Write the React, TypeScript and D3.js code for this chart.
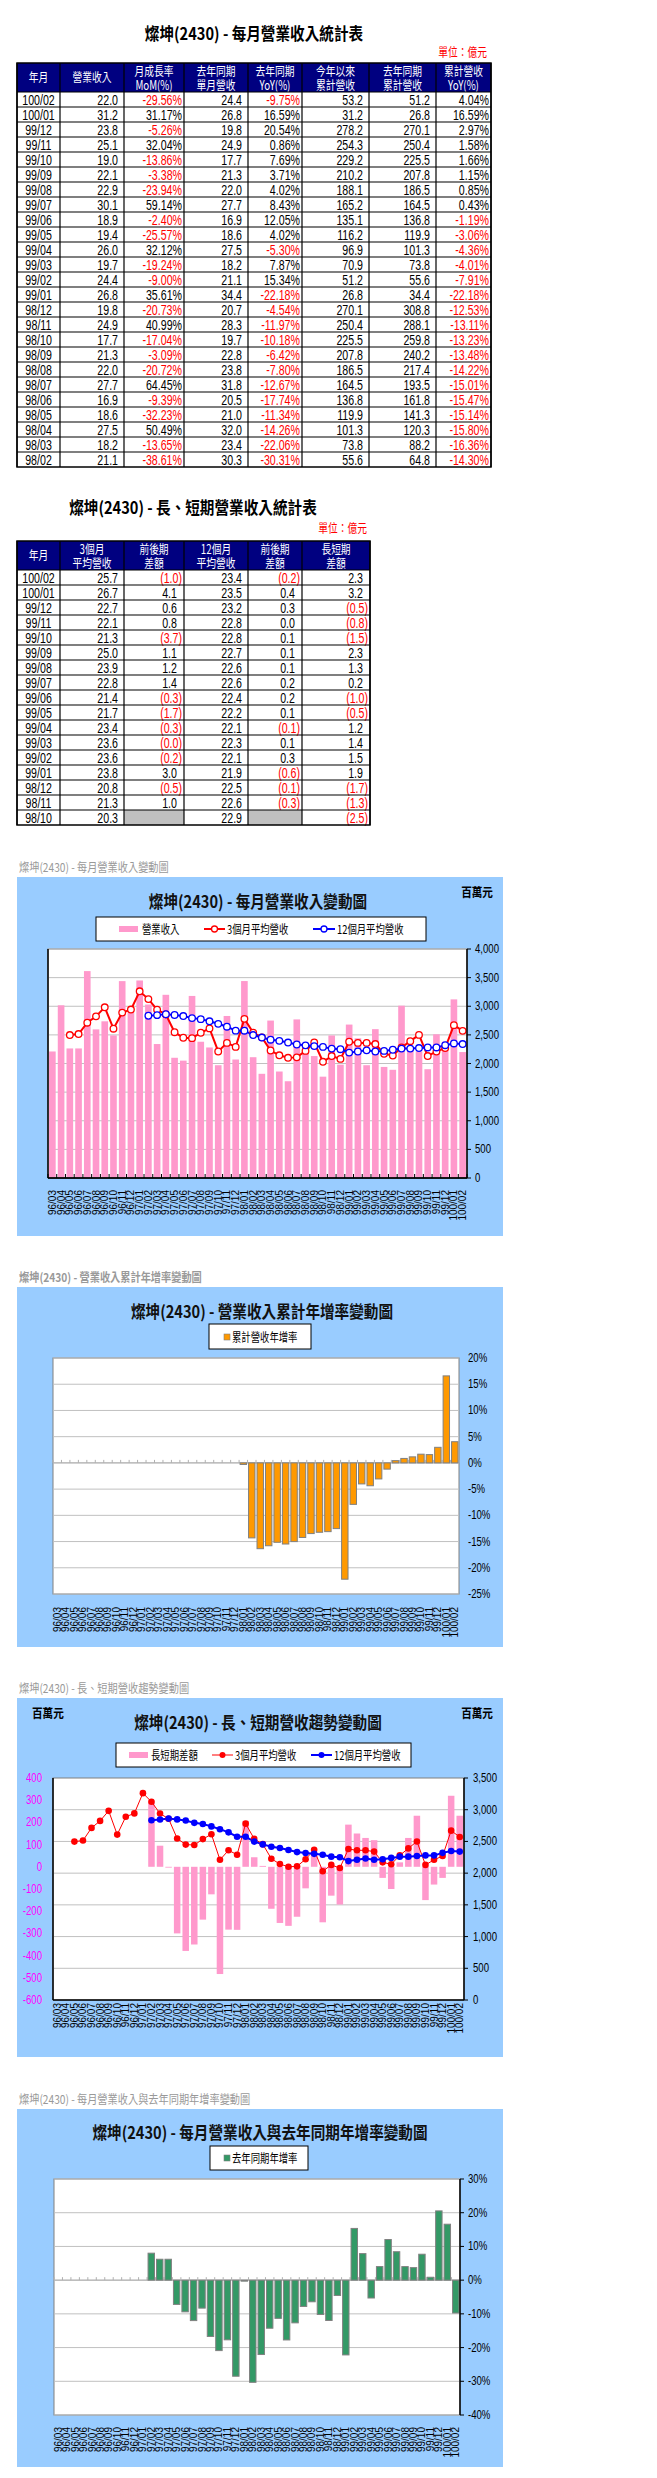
import * as d3 from "d3";

// ---------- data ----------
const months = [
  "96/03", "96/04", "96/05", "96/06", "96/07", "96/08", "96/09", "96/10", "96/11", "96/12",
  "97/01", "97/02", "97/03", "97/04", "97/05", "97/06", "97/07", "97/08", "97/09", "97/10", "97/11", "97/12",
  "98/01", "98/02", "98/03", "98/04", "98/05", "98/06", "98/07", "98/08", "98/09", "98/10", "98/11", "98/12",
  "99/01", "99/02", "99/03", "99/04", "99/05", "99/06", "99/07", "99/08", "99/09", "99/10", "99/11", "99/12",
  "100/01", "100/02",
];

// monthly revenue, 百萬元
const revenue = [
  2210, 3017, 2263, 2263, 3614, 2596, 2737, 2491, 3439, 2895,
  3450, 3030, 2340, 3200, 2100, 2050, 3180, 2380, 2280, 1970, 2830, 2070,
  3440, 2110, 1820, 2750, 1860, 1690, 2770, 2200, 2130, 1770, 2490, 1980,
  2680, 2440, 1970, 2600, 1940, 1890, 3010, 2290, 2210, 1900, 2510, 2380,
  3120, 2200,
];

const avg3: (number | null)[] = [
  null, null, 2497, 2514, 2713, 2824, 2982, 2608, 2889, 2942,
  3261, 3125, 2940, 2857, 2547, 2450, 2443, 2537, 2613, 2210, 2360, 2290,
  2780, 2540, 2457, 2227, 2143, 2100, 2107, 2220, 2367, 2030, 2130, 2080,
  2380, 2360, 2360, 2340, 2170, 2140, 2280, 2390, 2500, 2130, 2210, 2270,
  2670, 2570,
];

const avg12: (number | null)[] = [
  null, null, null, null, null, null, null, null, null, null,
  null, 2834, 2845, 2860, 2847, 2829, 2793, 2775, 2737, 2693, 2643, 2574,
  2573, 2497, 2453, 2416, 2396, 2366, 2332, 2317, 2304, 2290, 2260, 2250,
  2190, 2210, 2230, 2210, 2220, 2240, 2260, 2260, 2270, 2280, 2280, 2320,
  2350, 2340,
];

const longShortDiff: (number | null)[] = [
  null, null, null, null, null, null, null, null, null, null,
  null, 291, 95, -3, -300, -379, -350, -238, -124, -483, -283, -284,
  207, 43, 4, -189, -253, -266, -225, -97, 63, -250, -130, -170,
  190, 150, 130, 120, -50, -100, 20, 130, 230, -150, -80, -50,
  320, 230,
];

const cumYoY: (number | null)[] = [
  null, null, null, null, null, null, null, null, null, null,
  null, null, null, null, null, null, null, null, null, null, null, null,
  -0.3, -14.3, -16.36, -15.8, -15.14, -15.47, -15.01, -14.22, -13.48, -13.23, -13.11, -12.53,
  -22.18, -7.91, -4.01, -4.36, -3.06, -1.19, 0.43, 0.85, 1.15, 1.66, 1.58, 2.97,
  16.59, 4.04,
];

const monthYoY: (number | null)[] = [
  null, null, null, null, null, null, null, null, null, null,
  null, 8.0, 6.2, 6.2, -7.2, -9.4, -12.0, -8.3, -16.7, -20.9, -17.7, -28.5,
  -0.3, -30.31, -22.06, -14.26, -11.34, -17.74, -12.67, -7.8, -6.42, -10.18, -11.97, -4.54,
  -22.18, 15.34, 7.87, -5.3, 4.02, 12.05, 8.43, 4.02, 3.71, 7.69, 0.86, 20.54,
  16.59, -9.75,
];

// table 1 (億元)
const t1Month = ["100/02", "100/01", "99/12", "99/11", "99/10", "99/09", "99/08", "99/07", "99/06", "99/05", "99/04", "99/03", "99/02", "99/01", "98/12", "98/11", "98/10", "98/09", "98/08", "98/07", "98/06", "98/05", "98/04", "98/03", "98/02"];
const t1Rev = [22.0, 31.2, 23.8, 25.1, 19.0, 22.1, 22.9, 30.1, 18.9, 19.4, 26.0, 19.7, 24.4, 26.8, 19.8, 24.9, 17.7, 21.3, 22.0, 27.7, 16.9, 18.6, 27.5, 18.2, 21.1];
const t1MoM = [-29.56, 31.17, -5.26, 32.04, -13.86, -3.38, -23.94, 59.14, -2.4, -25.57, 32.12, -19.24, -9.0, 35.61, -20.73, 40.99, -17.04, -3.09, -20.72, 64.45, -9.39, -32.23, 50.49, -13.65, -38.61];
const t1LastYear = [24.4, 26.8, 19.8, 24.9, 17.7, 21.3, 22.0, 27.7, 16.9, 18.6, 27.5, 18.2, 21.1, 34.4, 20.7, 28.3, 19.7, 22.8, 23.8, 31.8, 20.5, 21.0, 32.0, 23.4, 30.3];
const t1YoY = [-9.75, 16.59, 20.54, 0.86, 7.69, 3.71, 4.02, 8.43, 12.05, 4.02, -5.3, 7.87, 15.34, -22.18, -4.54, -11.97, -10.18, -6.42, -7.8, -12.67, -17.74, -11.34, -14.26, -22.06, -30.31];
const t1Cum = [53.2, 31.2, 278.2, 254.3, 229.2, 210.2, 188.1, 165.2, 135.1, 116.2, 96.9, 70.9, 51.2, 26.8, 270.1, 250.4, 225.5, 207.8, 186.5, 164.5, 136.8, 119.9, 101.3, 73.8, 55.6];
const t1LastCum = [51.2, 26.8, 270.1, 250.4, 225.5, 207.8, 186.5, 164.5, 136.8, 119.9, 101.3, 73.8, 55.6, 34.4, 308.8, 288.1, 259.8, 240.2, 217.4, 193.5, 161.8, 141.3, 120.3, 88.2, 64.8];
const t1CumYoY = [4.04, 16.59, 2.97, 1.58, 1.66, 1.15, 0.85, 0.43, -1.19, -3.06, -4.36, -4.01, -7.91, -22.18, -12.53, -13.11, -13.23, -13.48, -14.22, -15.01, -15.47, -15.14, -15.8, -16.36, -14.3];

// table 2 (億元)
const t2Month = ["100/02", "100/01", "99/12", "99/11", "99/10", "99/09", "99/08", "99/07", "99/06", "99/05", "99/04", "99/03", "99/02", "99/01", "98/12", "98/11", "98/10"];
const t2Avg3 = [25.7, 26.7, 22.7, 22.1, 21.3, 25.0, 23.9, 22.8, 21.4, 21.7, 23.4, 23.6, 23.6, 23.8, 20.8, 21.3, 20.3];
const t2Diff3: (number | null)[] = [-1.0, 4.1, 0.6, 0.8, -3.7, 1.1, 1.2, 1.4, -0.3, -1.7, -0.3, -0.04, -0.2, 3.0, -0.5, 1.0, null];
const t2Avg12 = [23.4, 23.5, 23.2, 22.8, 22.8, 22.7, 22.6, 22.6, 22.4, 22.2, 22.1, 22.3, 22.1, 21.9, 22.5, 22.6, 22.9];
const t2Diff12: (number | null)[] = [-0.2, 0.4, 0.3, 0.0, 0.1, 0.1, 0.1, 0.2, 0.2, 0.1, -0.1, 0.1, 0.3, -0.6, -0.1, -0.3, null];
const t2LongShort = [2.3, 3.2, -0.5, -0.8, -1.5, 2.3, 1.3, 0.2, -1.0, -0.5, 1.2, 1.4, 1.5, 1.9, -1.7, -1.3, -2.5];

// ---------- styles ----------
const CJK = "'Noto Sans CJK TC', 'Noto Sans CJK JP', sans-serif";
const NUM = "'Liberation Sans', Arial, sans-serif";
const SKY = "#99ccff";
const GRID = "#c0c0c0";

// text squeezed horizontally, the source fonts are tall and narrow
function T({ x, y, sx = 0.78, size, anchor = "start", fill = "#000", family = CJK, weight = "normal", baseline, children }: any) {
  return (
    <text
      transform={`translate(${x},${y}) scale(${sx},1)`}
      textAnchor={anchor}
      fontSize={size}
      fill={fill}
      fontFamily={family}
      fontWeight={weight}
      dominantBaseline={baseline}
    >
      {children}
    </text>
  );
}

type Cell = { text: string; color?: string; pad?: number; gray?: boolean; center?: boolean };

function Table({ top, cols, headers, rows }: { top: number; cols: number[]; headers: string[][]; rows: Cell[][] }) {
  const headerH = 29;
  const rowH = 15;
  const y = d3.scaleBand(d3.range(rows.length), [top + headerH, top + headerH + rows.length * rowH]);
  const left = cols[0];
  const right = cols[cols.length - 1];
  const bottom = top + headerH + rows.length * rowH;
  return (
    <g>
      <rect x={left} y={top} width={right - left} height={headerH} fill="#000080" />
      {headers.map((h, c) => {
        const cx = (cols[c] + cols[c + 1]) / 2;
        return h.length === 1 ? (
          <T key={c} x={cx} y={top + headerH / 2 + 4.5} anchor="middle" fill="#fff" size={12.5}>{h[0]}</T>
        ) : (
          <g key={c}>
            <T x={cx} y={top + 12.5} anchor="middle" fill="#fff" size={12.5}>{h[0]}</T>
            <T x={cx} y={top + 27} anchor="middle" fill="#fff" size={12.5}>{h[1]}</T>
          </g>
        );
      })}
      {rows.map((r, i) => (
        <g key={i}>
          {r.map((cell, c) => {
            const yy = y(i)!;
            return (
              <g key={c}>
                {cell.gray && <rect x={cols[c]} y={yy} width={cols[c + 1] - cols[c]} height={rowH} fill="#c0c0c0" />}
                <T
                  x={cell.center ? (cols[c] + cols[c + 1]) / 2 : cols[c + 1] - (cell.pad ?? 6)}
                  y={yy + 12.5}
                  anchor={cell.center ? "middle" : "end"}
                  fill={cell.color ?? "#000"}
                  size={14}
                  sx={0.76}
                  family={NUM}
                >
                  {cell.text}
                </T>
              </g>
            );
          })}
        </g>
      ))}
      {rows.map((_, i) => (
        <line key={i} x1={left} x2={right} y1={y(i)!} y2={y(i)!} stroke="#000" strokeWidth={1.2} />
      ))}
      {cols.map((cx, c) => (
        <line key={c} x1={cx} x2={cx} y1={top} y2={bottom} stroke="#000" strokeWidth={1.2} />
      ))}
      <rect x={left} y={top} width={right - left} height={bottom - top} fill="none" stroke="#000" strokeWidth={1.5} />
    </g>
  );
}

const pct = (v: number): Cell => ({ text: `${v.toFixed(2)}%`, color: v < 0 ? "#ff0000" : "#000", pad: 2 });
const num = (v: number): Cell => ({ text: v.toFixed(1), pad: 6 });
const acc = (v: number | null): Cell =>
  v == null ? { text: "", gray: true } : v < 0 ? { text: `(${Math.abs(v).toFixed(1)})`, color: "#ff0000", pad: 2 } : { text: v.toFixed(1), pad: 7 };

function Table1() {
  const rows: Cell[][] = t1Month.map((m, i) => [
    { text: m, center: true },
    num(t1Rev[i]),
    pct(t1MoM[i]),
    num(t1LastYear[i]),
    pct(t1YoY[i]),
    num(t1Cum[i]),
    num(t1LastCum[i]),
    pct(t1CumYoY[i]),
  ]);
  return (
    <g>
      <T x={254} y={40} anchor="middle" size={17} sx={0.86} weight="bold">燦坤(2430) - 每月營業收入統計表</T>
      <T x={487} y={57} anchor="end" size={12.5} fill="#ff0000">單位：億元</T>
      <Table
        top={63}
        cols={[17, 60, 124, 184, 248, 302, 369, 436, 491]}
        headers={[["年月"], ["營業收入"], ["月成長率", "MoM(%)"], ["去年同期", "單月營收"], ["去年同期", "YoY(%)"], ["今年以來", "累計營收"], ["去年同期", "累計營收"], ["累計營收", "YoY(%)"]]}
        rows={rows}
      />
    </g>
  );
}

function Table2() {
  const rows: Cell[][] = t2Month.map((m, i) => [
    { text: m, center: true },
    num(t2Avg3[i]),
    acc(t2Diff3[i]),
    num(t2Avg12[i]),
    acc(t2Diff12[i]),
    acc(t2LongShort[i]),
  ]);
  return (
    <g>
      <T x={193} y={514} anchor="middle" size={17} sx={0.86} weight="bold">燦坤(2430) - 長、短期營業收入統計表</T>
      <T x={367} y={533} anchor="end" size={12.5} fill="#ff0000">單位：億元</T>
      <Table
        top={541}
        cols={[17, 60, 124, 184, 248, 302, 370]}
        headers={[["年月"], ["3個月", "平均營收"], ["前後期", "差額"], ["12個月", "平均營收"], ["前後期", "差額"], ["長短期", "差額"]]}
        rows={rows}
      />
    </g>
  );
}

// ---------- chart helpers ----------
function Panel({ subY, top, bottom, subtitle, subBold, title, titleX, titleY }: any) {
  return (
    <g>
      <T x={19} y={subY + 4.5} size={12} sx={0.85} fill="#999999" weight={subBold ? "bold" : "normal"}>{subtitle}</T>
      <rect x={17} y={top} width={486} height={bottom - top} fill={SKY} />
      <T x={titleX} y={titleY + 6} anchor="middle" size={17} sx={0.86} weight="bold" fill="#111">{title}</T>
    </g>
  );
}

function band(x0: number, x1: number) {
  return d3.scaleBand(months, [x0, x1]).paddingInner(0.24).paddingOuter(0.12);
}

function XLabels({ x, top }: { x: d3.ScaleBand<string>; top: number }) {
  return (
    <g fontSize={10} fontFamily={NUM} fill="#000">
      {months.map((m) => (
        <text key={m} transform={`translate(${x(m)! + x.bandwidth() / 2},${top}) rotate(-90)`} textAnchor="end" dominantBaseline="central">
          {m}
        </text>
      ))}
    </g>
  );
}

function CatTicks({ x, y, len, color }: { x: d3.ScaleBand<string>; y: number; len: number; color: string }) {
  const [r0, r1] = x.range();
  const step = x.step();
  return (
    <g stroke={color} strokeWidth={1}>
      {d3.range(months.length + 1).map((i) => (
        <line key={i} x1={r0 + i * step} x2={r0 + i * step} y1={y} y2={y - len} />
      ))}
      <line x1={r0} x2={r1} y1={y} y2={y} />
    </g>
  );
}

function RightAxis({ y, x, ticks, fmt, lineX }: { y: d3.ScaleLinear<number, number>; x: number; ticks: number[]; fmt: (v: number) => string; lineX?: number }) {
  return (
    <g>
      {lineX != null && <line x1={lineX} x2={lineX} y1={y.range()[0]} y2={y.range()[1]} stroke="#000" strokeWidth={1.5} />}
      {ticks.map((t) => (
        <g key={t}>
          {lineX != null && <line x1={lineX} x2={lineX + 4} y1={y(t)} y2={y(t)} stroke="#000" />}
          <T x={x} y={y(t) + 4} size={12} sx={0.8} family={NUM}>{fmt(t)}</T>
        </g>
      ))}
    </g>
  );
}

// ---------- chart 1 ----------
function RevenueChart() {
  const [L, R, T0, B] = [48, 467, 949, 1178];
  const x = band(L, R);
  const y = d3.scaleLinear([0, 4000], [B, T0]);
  const cx = (i: number) => x(months[i])! + x.bandwidth() / 2;
  const line = d3.line<number | null>().defined((d) => d != null).x((_, i) => cx(i)).y((d) => y(d!));
  const ticks = d3.range(0, 4001, 500);
  return (
    <g>
      <Panel subY={867} top={877} bottom={1236} subtitle="燦坤(2430) - 每月營業收入變動圖" title="燦坤(2430) - 每月營業收入變動圖" titleX={258} titleY={902} />
      <T x={493} y={897} anchor="end" size={12.5} sx={0.85} weight="bold">百萬元</T>
      <rect x={96} y={917} width={330} height={24} fill="#fff" stroke="#000" />
      <rect x={119} y={926} width={19} height={6} fill="#ff99cc" />
      <T x={142} y={933.5} size={12}>營業收入</T>
      <line x1={204} x2={225} y1={929} y2={929} stroke="#ff0000" strokeWidth={2} />
      <circle cx={214.5} cy={929} r={3} fill="#fff" stroke="#ff0000" strokeWidth={1.3} />
      <T x={227} y={933.5} size={12}>3個月平均營收</T>
      <line x1={313} x2={335} y1={929} y2={929} stroke="#0000ff" strokeWidth={2} />
      <circle cx={324} cy={929} r={3} fill="#fff" stroke="#0000ff" strokeWidth={1.3} />
      <T x={337} y={933.5} size={12}>12個月平均營收</T>

      <rect x={L} y={T0} width={R - L} height={B - T0} fill="#fff" stroke="#808080" />
      {ticks.slice(1).map((t) => (
        <line key={t} x1={L} x2={R} y1={y(t)} y2={y(t)} stroke={GRID} />
      ))}
      {revenue.map((v, i) => (
        <rect key={i} x={x(months[i])} y={y(v)} width={x.bandwidth()} height={y(0) - y(v)} fill="#ff99cc" />
      ))}
      <path d={line(avg3) ?? ""} fill="none" stroke="#ff0000" strokeWidth={2} />
      <path d={line(avg12) ?? ""} fill="none" stroke="#0000ff" strokeWidth={2} />
      {avg3.map((v, i) => v != null && <circle key={"r" + i} cx={cx(i)} cy={y(v)} r={3.3} fill="#fff" stroke="#ff0000" strokeWidth={1.3} />)}
      {avg12.map((v, i) => v != null && <circle key={"b" + i} cx={cx(i)} cy={y(v)} r={3.3} fill="#fff" stroke="#0000ff" strokeWidth={1.3} />)}
      <line x1={L} x2={L} y1={T0} y2={B} stroke="#000" strokeWidth={1.5} />
      <CatTicks x={x} y={B} len={4} color="#000" />
      <line x1={L} x2={R} y1={B} y2={B} stroke="#000" strokeWidth={1.5} />
      <RightAxis y={y} x={475} ticks={ticks} fmt={d3.format(",")} lineX={R} />
      <XLabels x={x} top={1190} />
    </g>
  );
}

// ---------- chart 2 ----------
function CumYoYChart() {
  const [L, R, T0, B] = [53, 459, 1358, 1594];
  const x = band(L, R);
  const y = d3.scaleLinear([-25, 20], [B, T0]);
  const ticks = d3.range(-25, 21, 5);
  return (
    <g>
      <Panel subY={1277} top={1287} bottom={1647} subBold subtitle="燦坤(2430) -  營業收入累計年增率變動圖" title="燦坤(2430) -  營業收入累計年增率變動圖" titleX={262} titleY={1312} />
      <rect x={209} y={1324} width={102} height={25} fill="#fff" stroke="#000" />
      <rect x={224} y={1334} width={6} height={6} fill="#ff9900" stroke="#808080" strokeWidth={0.6} />
      <T x={232} y={1341.5} size={12}>累計營收年增率</T>
      <rect x={L} y={T0} width={R - L} height={B - T0} fill="#fff" stroke="#808080" />
      {ticks.map((t) => (
        <line key={t} x1={L} x2={R} y1={y(t)} y2={y(t)} stroke={GRID} />
      ))}
      <CatTicks x={x} y={y(0)} len={3} color="#b0b0b0" />
      {cumYoY.map((v, i) =>
        v == null ? null : (
          <rect key={i} x={x(months[i])} y={y(Math.max(0, v))} width={x.bandwidth()} height={Math.abs(y(v) - y(0))} fill="#ff9900" stroke="#808080" strokeWidth={1} />
        ),
      )}
      <RightAxis y={y} x={468} ticks={ticks} fmt={(v) => `${v}%`} />
      <XLabels x={x} top={1607} />
    </g>
  );
}

// ---------- chart 3 ----------
function TrendChart() {
  const [L, R, T0, B] = [53, 464, 1778, 2000];
  const x = band(L, R);
  const yl = d3.scaleLinear([-600, 400], [B, T0]);
  const yr = d3.scaleLinear([0, 3500], [B, T0]);
  const cx = (i: number) => x(months[i])! + x.bandwidth() / 2;
  const line = d3.line<number | null>().defined((d) => d != null).x((_, i) => cx(i)).y((d) => yr(d!));
  const rTicks = d3.range(0, 3501, 500);
  const lTicks = d3.range(-600, 401, 100);
  return (
    <g>
      <Panel subY={1688} top={1698} bottom={2057} subtitle="燦坤(2430) -  長、短期營收趨勢變動圖" title="燦坤(2430) -  長、短期營收趨勢變動圖" titleX={258} titleY={1723} />
      <T x={32} y={1718} size={12.5} sx={0.85} weight="bold">百萬元</T>
      <T x={493} y={1718} anchor="end" size={12.5} sx={0.85} weight="bold">百萬元</T>
      <rect x={116} y={1743} width={295} height={24} fill="#fff" stroke="#000" />
      <rect x={129} y={1752} width={19} height={6} fill="#ff99cc" />
      <T x={151} y={1759.5} size={12}>長短期差額</T>
      <line x1={212} x2={233} y1={1755} y2={1755} stroke="#ff0000" strokeWidth={1} />
      <circle cx={222.5} cy={1755} r={3} fill="#ff0000" />
      <T x={235} y={1759.5} size={12}>3個月平均營收</T>
      <line x1={311} x2={332} y1={1755} y2={1755} stroke="#0000ff" strokeWidth={2} />
      <circle cx={321.5} cy={1755} r={3} fill="#0000ff" />
      <T x={334} y={1759.5} size={12}>12個月平均營收</T>

      <rect x={L} y={T0} width={R - L} height={B - T0} fill="#fff" stroke="#808080" />
      {rTicks.slice(1, -1).map((t) => (
        <line key={t} x1={L} x2={R} y1={yr(t)} y2={yr(t)} stroke={GRID} />
      ))}
      {longShortDiff.map((v, i) =>
        v == null ? null : (
          <rect key={i} x={x(months[i])} y={yl(Math.max(0, v))} width={x.bandwidth()} height={Math.max(0.8, Math.abs(yl(v) - yl(0)))} fill="#ff99cc" />
        ),
      )}
      <path d={line(avg3) ?? ""} fill="none" stroke="#ff0000" strokeWidth={1} />
      <path d={line(avg12) ?? ""} fill="none" stroke="#0000ff" strokeWidth={2} />
      {avg3.map((v, i) => v != null && <circle key={"r" + i} cx={cx(i)} cy={yr(v)} r={3.3} fill="#ff0000" />)}
      {avg12.map((v, i) => v != null && <circle key={"b" + i} cx={cx(i)} cy={yr(v)} r={3.3} fill="#0000ff" />)}
      <line x1={L} x2={R} y1={B} y2={B} stroke="#000" strokeWidth={1.5} />
      <line x1={L} x2={L} y1={T0} y2={B} stroke="#000" strokeWidth={1.5} />
      {lTicks.map((t) => (
        <T key={t} x={42} y={yl(t) + 4} anchor="end" size={12} sx={0.8} family={NUM} fill="#ff00ff">{t}</T>
      ))}
      <RightAxis y={yr} x={473} ticks={rTicks} fmt={d3.format(",")} lineX={R} />
      <XLabels x={x} top={2003} />
    </g>
  );
}

// ---------- chart 4 ----------
function MonthYoYChart() {
  const [L, R, T0, B] = [54, 460, 2179, 2415];
  const x = band(L, R);
  const y = d3.scaleLinear([-40, 30], [B, T0]);
  const ticks = d3.range(-40, 31, 10);
  return (
    <g>
      <Panel subY={2099} top={2109} bottom={2467} subtitle="燦坤(2430) -  每月營業收入與去年同期年增率變動圖" title="燦坤(2430) -  每月營業收入與去年同期年增率變動圖" titleX={260} titleY={2133} />
      <rect x={210} y={2146} width={98} height={24} fill="#fff" stroke="#000" />
      <rect x={224} y={2155} width={6} height={6} fill="#339966" stroke="#808080" strokeWidth={0.6} />
      <T x={232} y={2162.5} size={12}>去年同期年增率</T>
      <rect x={L} y={T0} width={R - L} height={B - T0} fill="#fff" stroke="#808080" />
      {ticks.map((t) => (
        <line key={t} x1={L} x2={R} y1={y(t)} y2={y(t)} stroke={GRID} />
      ))}
      <CatTicks x={x} y={y(0)} len={3} color="#b0b0b0" />
      {monthYoY.map((v, i) =>
        v == null ? null : (
          <rect key={i} x={x(months[i])} y={y(Math.max(0, v))} width={x.bandwidth()} height={Math.abs(y(v) - y(0))} fill="#339966" stroke="#808080" strokeWidth={1} />
        ),
      )}
      <RightAxis y={y} x={468} ticks={ticks} fmt={(v) => `${v}%`} lineX={R} />
      <XLabels x={x} top={2427} />
    </g>
  );
}

export default function App() {
  return (
    <div style={{ position: "absolute", left: 0, top: 0 }}>
      <svg width={657} height={2478} style={{ display: "block", background: "#fff" }}>
        <Table1 />
        <Table2 />
        <RevenueChart />
        <CumYoYChart />
        <TrendChart />
        <MonthYoYChart />
      </svg>
    </div>
  );
}
